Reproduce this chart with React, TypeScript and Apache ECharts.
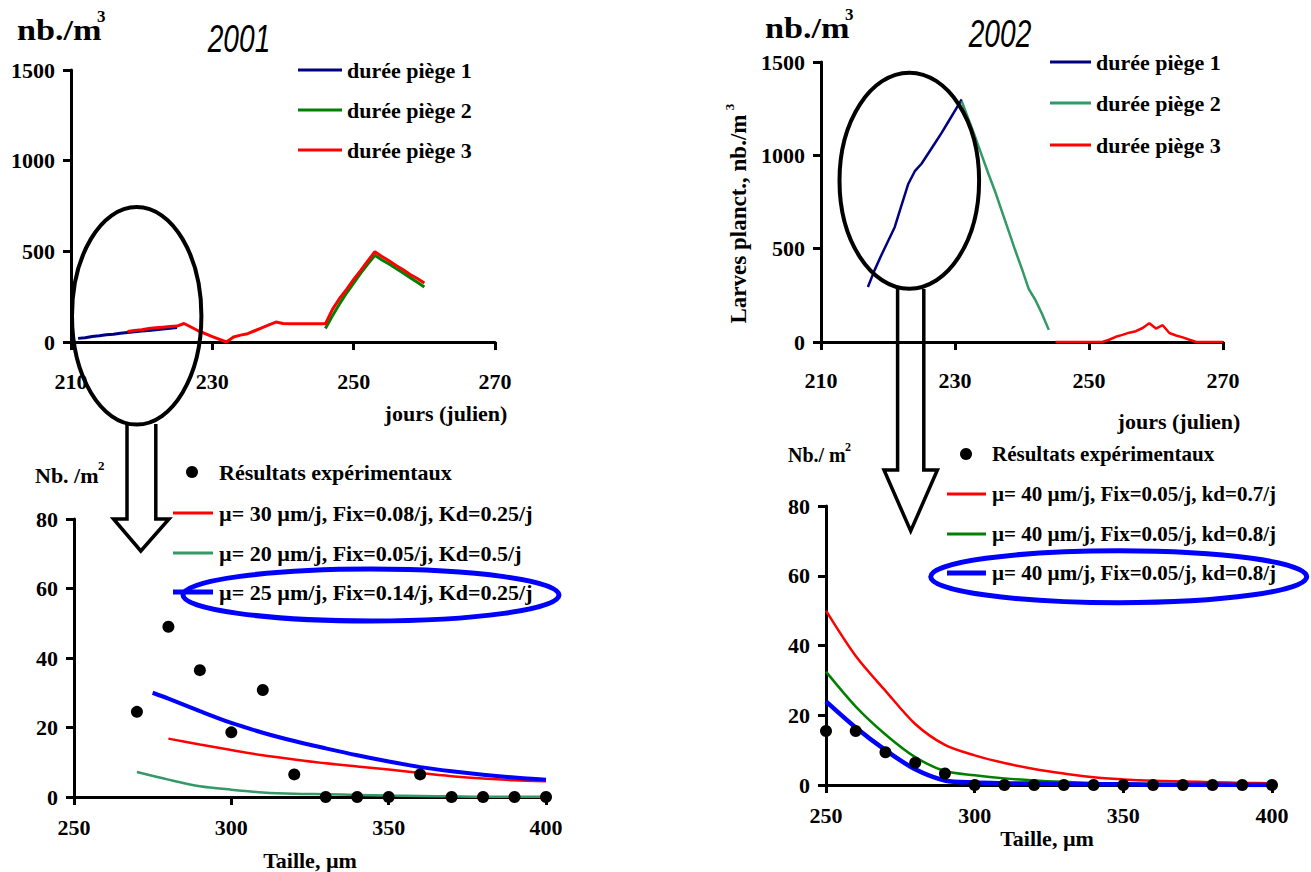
import React, { useEffect, useRef } from "react";
import * as echarts from "echarts";

const SERIF = "Liberation Serif";
const SANS = "Liberation Sans";

// ---------- 2001 : larvae per m3 vs julian day ----------
const days2001Trap1 = [211, 212, 213, 214, 215, 216, 217, 218, 219, 220, 221, 222, 223, 224, 225];
const larvae2001Trap1 = [20, 24, 30, 34, 40, 43, 48, 52, 56, 60, 64, 68, 72, 76, 80];
const days2001Trap2 = [246, 247, 248, 249, 250, 251, 252, 253, 254, 255, 256, 257, 258, 259, 260];
const larvae2001Trap2 = [75, 145, 210, 270, 325, 380, 430, 478, 452, 430, 405, 380, 355, 330, 303];
const days2001Trap3 = [218, 219, 220, 221, 222, 223, 224, 225, 226, 228, 230, 232, 233, 234, 235, 236, 237, 238, 239, 240, 241, 242, 243, 244, 245, 246, 247, 248, 249, 250, 251, 252, 253, 254, 255, 256, 257, 258, 259, 260];
const larvae2001Trap3 = [58, 64, 68, 74, 78, 82, 85, 88, 102, 62, 30, 0, 28, 38, 46, 62, 78, 94, 110, 102, 100, 100, 100, 100, 100, 100, 180, 240, 290, 345, 395, 447, 498, 472, 448, 422, 398, 372, 350, 325];

// ---------- 2002 : larvae per m3 vs julian day ----------
const days2002Trap1 = [217, 218, 219, 220, 221, 222, 223, 224, 225, 226, 227, 228, 229, 230, 231];
const larvae2002Trap1 = [295, 385, 465, 540, 615, 730, 845, 915, 955, 1010, 1065, 1120, 1180, 1240, 1300];
const days2002Trap2 = [231, 232, 233, 234, 235, 236, 237, 238, 239, 240, 241, 242, 243, 244];
const larvae2002Trap2 = [1290, 1195, 1100, 1000, 900, 805, 700, 595, 490, 390, 285, 225, 150, 65];
const days2002Trap3 = [245, 246, 247, 248, 249, 250, 251, 252, 253, 254, 255, 256, 257, 258, 259, 260, 261, 262, 263, 264, 265, 266, 267, 268, 269, 270];
const larvae2002Trap3 = [0, 0, 0, 0, 0, 0, 0, 0, 12, 28, 38, 50, 58, 75, 100, 72, 90, 48, 35, 25, 12, 0, 0, 0, 0, 0];

// ---------- 2001 : size distribution (nb/m2 vs size) ----------
const sizes2001Obs = [270, 280, 290, 300, 310, 320, 330, 340, 350, 360, 370, 380, 390, 400];
const density2001Obs = [24.5, 49, 36.5, 18.6, 30.8, 6.5, 0, 0, 0, 6.5, 0, 0, 0, 0];
const sizes2001Mu30 = [280, 290, 300, 310, 320, 330, 340, 350, 360, 370, 380, 390, 400];
const density2001Mu30 = [16.8, 15.1, 13.5, 12.0, 10.8, 9.7, 8.8, 7.9, 6.9, 6.0, 5.3, 4.8, 4.5];
const sizes2001Mu20 = [270, 280, 290, 300, 310, 320, 330, 340, 350, 360, 370, 380, 390, 400];
const density2001Mu20 = [7.2, 5.0, 3.1, 2.1, 1.3, 0.9, 0.8, 0.6, 0.4, 0.3, 0.2, 0.1, 0.1, 0.1];
const sizes2001Mu25 = [275, 280, 290, 300, 310, 320, 330, 340, 350, 360, 370, 380, 390, 400];
const density2001Mu25 = [30, 28.3, 24.7, 21.3, 18.5, 16.1, 14, 12, 10.2, 8.6, 7.4, 6.4, 5.6, 5.0];

// ---------- 2002 : size distribution (nb/m2 vs size) ----------
const sizes2002 = [250, 260, 270, 280, 290, 300, 310, 320, 330, 340, 350, 360, 370, 380, 390, 400];
const density2002Obs = [15.5, 15.5, 9.4, 6.4, 3.3, 0, 0, 0, 0, 0, 0, 0, 0, 0, 0, 0];
const density2002Kd07 = [50, 37, 27, 17.5, 11.5, 8.5, 6.3, 4.6, 3.3, 2.2, 1.6, 1.2, 1.0, 0.8, 0.6, 0.5];
const density2002Kd08a = [32.5, 22.5, 14.5, 8, 4, 2.8, 1.9, 1.3, 0.9, 0.6, 0.4, 0.3, 0.2, 0.2, 0.1, 0.1];
const density2002Kd08b = [24, 16.5, 10, 4.5, 1.3, 0.7, 0.5, 0.4, 0.3, 0.2, 0.2, 0.1, 0.1, 0.1, 0, 0];

// ---------- labels ----------
const trapNames = ["durée piège 1", "durée piège 2", "durée piège 3"];
const obsName = "Résultats expérimentaux";
const model2001Names = [
  "µ= 30 µm/j, Fix=0.08/j, Kd=0.25/j",
  "µ= 20 µm/j, Fix=0.05/j, Kd=0.5/j",
  "µ= 25 µm/j, Fix=0.14/j, Kd=0.25/j",
];
const model2002Names = [
  "µ= 40 µm/j, Fix=0.05/j, kd=0.7/j",
  "µ= 40 µm/j, Fix=0.05/j, kd=0.8/j",
  "µ= 40 µm/j, Fix=0.05/j, kd=0.8/j",
];
const dayTicks = { min: 210, max: 270, interval: 20 };
const countTicks = { min: 0, max: 1500, interval: 500 };
const sizeTicks = { min: 250, max: 400, interval: 50 };
const densityTicks = { min: 0, max: 80, interval: 20 };

const pairs = (xs: number[], ys: number[]) => xs.map((x, i) => [x, ys[i]]);

function axis(t: { min: number; max: number; interval: number }, margin: number) {
  return {
    type: "value",
    min: t.min,
    max: t.max,
    interval: t.interval,
    axisLine: { show: true, onZero: false, lineStyle: { color: "#000", width: 3 } },
    axisTick: { show: true, length: 8, lineStyle: { color: "#000", width: 3 } },
    axisLabel: {
      color: "#000",
      fontFamily: SERIF,
      fontWeight: "bold",
      fontSize: 22,
      margin,
      formatter: (v: number) => "{t|" + String(v) + "}",
      rich: {
        t: { fontFamily: SERIF, fontWeight: "bold", fontSize: 22, color: "#000" },
      },
    },
    splitLine: { show: false },
  };
}

function line(name: string, idx: number, xs: number[], ys: number[], color: string, width: number, smooth: number | boolean = false) {
  return {
    type: "line",
    name,
    xAxisIndex: idx,
    yAxisIndex: idx,
    data: pairs(xs, ys),
    showSymbol: false,
    symbol: "none",
    smooth,
    silent: true,
    lineStyle: { color, width },
    itemStyle: { color },
    z: 2,
  };
}

function scatter(name: string, idx: number, xs: number[], ys: number[]) {
  return {
    type: "scatter",
    name,
    xAxisIndex: idx,
    yAxisIndex: idx,
    data: pairs(xs, ys),
    symbol: "circle",
    symbolSize: 12,
    silent: true,
    itemStyle: { color: "#000", opacity: 1 },
    z: 5,
  };
}

type TxtOpts = { size?: number; weight?: string; family?: string; style?: string; align?: string; rotation?: number; scaleX?: number; scaleY?: number };
function txt(text: string, x: number, y: number, o: TxtOpts = {}) {
  const align = o.align || "left";
  return {
    type: "text",
    x,
    y,
    z: 100,
    rotation: o.rotation || 0,
    scaleX: o.scaleX || 1,
    scaleY: o.scaleY || 1,
    silent: true,
    style: {
      text,
      fill: "#000",
      fontFamily: o.family || SERIF,
      fontSize: o.size || 22,
      fontWeight: o.weight || "bold",
      fontStyle: o.style || "normal",
      align,
      verticalAlign: "middle",
      textAlign: align,
      textVerticalAlign: "middle",
    },
  };
}

function seg(x1: number, x2: number, y: number, color: string, w: number) {
  return { type: "line", z: 100, silent: true, shape: { x1, y1: y, x2, y2: y }, style: { stroke: color, lineWidth: w } };
}

function ell(cx: number, cy: number, rx: number, ry: number, color: string, w: number) {
  return { type: "ellipse", z: 110, silent: true, shape: { cx, cy, rx, ry }, style: { fill: "none", stroke: color, lineWidth: w } };
}

function arrow(points: number[][]) {
  return { type: "polyline", z: 110, silent: true, shape: { points }, style: { fill: "none", stroke: "#000", lineWidth: 3.5, lineJoin: "miter" } };
}

export default function App() {
  const ref = useRef<HTMLDivElement>(null);

  useEffect(() => {
    if (!ref.current) return;
    const chart = echarts.init(ref.current, undefined, { renderer: "svg" });

    const graphic: any[] = [
      // titles and units
      txt("nb./m", 17, 30, { size: 29, scaleX: 1.18 }),
      txt("3", 97, 16, { size: 17 }),
      txt("2001", 239, 39, { family: SANS, weight: "normal", style: "italic", size: 38, align: "center", scaleX: 0.74 }),
      txt("nb./m", 765, 28, { size: 29, scaleX: 1.18 }),
      txt("3", 845, 14, { size: 17 }),
      txt("2002", 1000, 34, { family: SANS, weight: "normal", style: "italic", size: 38, align: "center", scaleX: 0.74 }),
      txt("Larves planct., nb./m", 738, 219, { size: 23, align: "center", rotation: Math.PI / 2 }),
      txt("3", 729, 107, { size: 13, align: "center", rotation: Math.PI / 2 }),
      txt("jours (julien)", 446, 413, { align: "center" }),
      txt("jours (julien)", 1179, 421, { align: "center" }),
      txt("Nb. /m", 35, 475),
      txt("2", 98, 465, { size: 13 }),
      txt("Nb./ m", 788, 455, { size: 20 }),
      txt("2", 845, 447, { size: 12 }),
      txt("Taille, µm", 310, 860, { align: "center" }),
      txt("Taille, µm", 1047, 838, { align: "center" }),

      // legend 2001 traps
      seg(298, 342, 70, "#000080", 3),
      txt(trapNames[0], 347, 70),
      seg(298, 342, 110, "#008000", 3),
      txt(trapNames[1], 347, 110),
      seg(298, 342, 150, "#ff0000", 3),
      txt(trapNames[2], 347, 150),

      // legend 2002 traps
      seg(1050, 1091, 62, "#000080", 3),
      txt(trapNames[0], 1096, 62),
      seg(1050, 1091, 103, "#339966", 3),
      txt(trapNames[1], 1096, 103),
      seg(1050, 1091, 145, "#ff0000", 3),
      txt(trapNames[2], 1096, 145),

      // legend 2001 models
      { type: "circle", z: 100, silent: true, shape: { cx: 192, cy: 472, r: 6 }, style: { fill: "#000" } },
      txt(obsName, 219, 472),
      seg(173, 213, 513, "#ff0000", 3),
      txt(model2001Names[0], 219, 513),
      seg(173, 213, 553, "#339966", 3),
      txt(model2001Names[1], 219, 553),
      seg(173, 213, 592, "#0000ff", 5),
      txt(model2001Names[2], 219, 592),

      // legend 2002 models
      { type: "circle", z: 100, silent: true, shape: { cx: 966, cy: 454, r: 6 }, style: { fill: "#000" } },
      txt(obsName, 992, 454, { size: 21 }),
      seg(947, 986, 494, "#ff0000", 3),
      txt(model2002Names[0], 992, 494, { size: 21 }),
      seg(947, 986, 534, "#008000", 3),
      txt(model2002Names[1], 992, 534, { size: 21 }),
      seg(947, 986, 573, "#0000ff", 5),
      txt(model2002Names[2], 992, 573, { size: 21 }),

      // highlight ellipses and arrows
      ell(136.7, 315.8, 64.7, 108.8, "#000", 4),
      ell(909.3, 180.7, 69.8, 108, "#000", 4),
      ell(371, 595, 188, 26, "#0000ff", 5),
      ell(1118.7, 576.7, 188, 26, "#0000ff", 5),
      arrow([[127, 424], [127, 519], [113.5, 519], [140.8, 551], [169, 519], [155.8, 519], [155.8, 424]]),
      arrow([[897.6, 289], [897.6, 470], [884, 470], [910.7, 531], [937.4, 470], [923.8, 470], [923.8, 289]]),
    ];

    chart.setOption({
      animation: false,
      backgroundColor: "#fff",
      textStyle: { fontFamily: SERIF },
      grid: [
        { left: 71, top: 70, width: 424, height: 272 },
        { left: 821, top: 62, width: 402, height: 280 },
        { left: 74, top: 519, width: 472, height: 278 },
        { left: 826, top: 506, width: 446, height: 279 },
      ],
      xAxis: [
        { ...axis(dayTicks, 28), gridIndex: 0 },
        { ...axis(dayTicks, 27), gridIndex: 1 },
        { ...axis(sizeTicks, 19), gridIndex: 2 },
        { ...axis(sizeTicks, 19), gridIndex: 3 },
      ],
      yAxis: [
        { ...axis(countTicks, 16), gridIndex: 0 },
        { ...axis(countTicks, 16), gridIndex: 1 },
        { ...axis(densityTicks, 16), gridIndex: 2 },
        { ...axis(densityTicks, 16), gridIndex: 3 },
      ],
      series: [
        line(trapNames[0], 0, days2001Trap1, larvae2001Trap1, "#000080", 3),
        line(trapNames[1], 0, days2001Trap2, larvae2001Trap2, "#008000", 3),
        line(trapNames[2], 0, days2001Trap3, larvae2001Trap3, "#ff0000", 3),
        line(trapNames[0], 1, days2002Trap1, larvae2002Trap1, "#000080", 2.5),
        line(trapNames[1], 1, days2002Trap2, larvae2002Trap2, "#339966", 2.5),
        line(trapNames[2], 1, days2002Trap3, larvae2002Trap3, "#ff0000", 2.5),
        line(model2001Names[0], 2, sizes2001Mu30, density2001Mu30, "#ff0000", 2.5, 0.3),
        line(model2001Names[1], 2, sizes2001Mu20, density2001Mu20, "#339966", 2.5, 0.3),
        line(model2001Names[2], 2, sizes2001Mu25, density2001Mu25, "#0000ff", 4, 0.3),
        scatter(obsName, 2, sizes2001Obs, density2001Obs),
        line(model2002Names[0], 3, sizes2002, density2002Kd07, "#ff0000", 2.5, 0.3),
        line(model2002Names[1], 3, sizes2002, density2002Kd08a, "#008000", 2.5, 0.3),
        line(model2002Names[2], 3, sizes2002, density2002Kd08b, "#0000ff", 4.5, 0.3),
        scatter(obsName, 3, sizes2002, density2002Obs),
      ],
      graphic,
    } as any);

    return () => chart.dispose();
  }, []);

  return (
    <div
      ref={ref}
      style={{ position: "absolute", left: 0, top: 0, width: 1311, height: 872, background: "#fff" }}
    />
  );
}
